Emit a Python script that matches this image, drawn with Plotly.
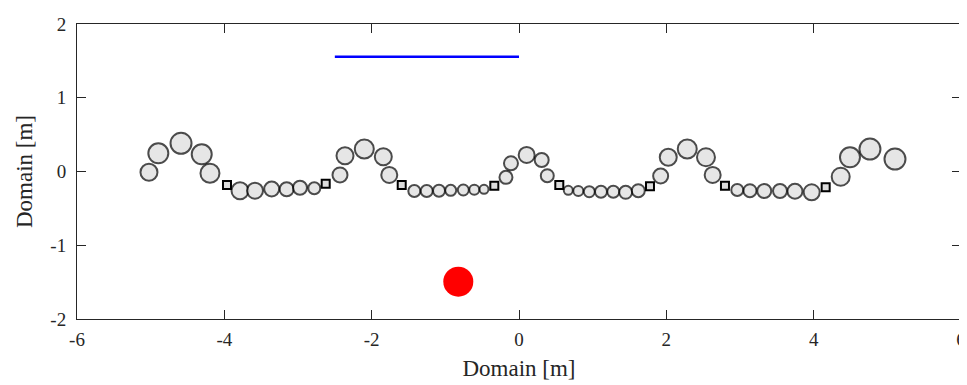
import plotly.graph_objects as go

# Circles (body links)
circle_x = [-5.023, -4.896, -4.588, -4.307, -4.195,
            -3.787, -3.584, -3.357, -3.154, -2.973, -2.779,
            -2.430, -2.362, -2.100, -1.842, -1.761,
            -1.421, -1.253, -1.086, -0.927, -0.756, -0.607, -0.475,
            -0.177, -0.109, 0.104, 0.308, 0.384,
            0.669, 0.805, 0.954, 1.113, 1.280, 1.448, 1.619,
            1.923, 2.026, 2.284, 2.538, 2.629,
            2.963, 3.135, 3.329, 3.543, 3.746, 3.973,
            4.367, 4.493, 4.764, 5.104]
circle_y = [-0.011, 0.247, 0.382, 0.233, -0.024,
            -0.260, -0.260, -0.237, -0.241, -0.220, -0.228,
            -0.047, 0.214, 0.305, 0.201, -0.047,
            -0.264, -0.264, -0.260, -0.255, -0.251, -0.247, -0.241,
            -0.079, 0.111, 0.224, 0.156, -0.057,
            -0.255, -0.264, -0.274, -0.274, -0.274, -0.282, -0.260,
            -0.061, 0.193, 0.305, 0.193, -0.047,
            -0.251, -0.260, -0.264, -0.264, -0.268, -0.282,
            -0.071, 0.193, 0.305, 0.169]
circle_d = [17, 20, 21, 20, 19,
            17, 16, 15, 14, 14, 12,
            15, 17, 19, 17, 16,
            12, 12, 12, 11, 11, 10, 9,
            13, 14, 16, 14, 13,
            9, 10, 11, 12, 12, 13, 13,
            15, 17, 19, 18, 16,
            12, 13, 14, 14, 15, 16,
            18, 20, 21, 21]

# Rectangles (joints)
square_x = [-3.964, -2.624, -1.592, -0.335, 0.547, 1.778, 2.796, 4.163]
square_y = [-0.183, -0.165, -0.183, -0.193, -0.183, -0.201, -0.193, -0.214]

# Blue segment
seg_x = [-2.5, 0.0]
seg_y = [1.555, 1.555]

# Red target
target_x = [-0.824]
target_y = [-1.494]

FONT = "Liberation Serif, DejaVu Serif, serif"

fig = go.Figure()
fig.add_trace(go.Scatter(
    x=seg_x, y=seg_y, mode="lines",
    line=dict(color="#0000ff", width=2.5), showlegend=False, hoverinfo="skip"))
fig.add_trace(go.Scatter(
    x=circle_x, y=circle_y, mode="markers",
    marker=dict(size=circle_d, color="#dcdcdc",
                line=dict(color="black", width=2)),
    showlegend=False))
fig.add_trace(go.Scatter(
    x=square_x, y=square_y, mode="markers",
    marker=dict(symbol="square", size=8, color="#dcdcdc",
                line=dict(color="black", width=2)),
    showlegend=False))
fig.add_trace(go.Scatter(
    x=target_x, y=target_y, mode="markers",
    marker=dict(size=30, color="#ff0000", line=dict(width=0)),
    showlegend=False))

axis_common = dict(
    showline=True, linecolor="#262626", linewidth=1, mirror="ticks",
    ticks="inside", ticklen=9, tickcolor="#262626", tickwidth=1,
    showgrid=False, zeroline=False, automargin=False,
    tickfont=dict(family=FONT, size=19, color="#262626"),
)

# The page body has an 8px margin, so the figure is sized/offset to compensate
fig.update_layout(
    width=959, height=377,
    margin=dict(l=69, r=6, t=16, b=66),
    plot_bgcolor="white", paper_bgcolor="white",
    xaxis=dict(range=[-6, 6], tickvals=[-6, -4, -2, 0, 2, 4, 6],
               ticktext=["-6", "-4", "-2", "0", "2", "4", "6"],
               title=dict(text="Domain [m]", standoff=11,
                          font=dict(family=FONT, size=23, color="#262626")),
               ticklabelstandoff=3,
               **axis_common),
    yaxis=dict(range=[-2, 2], tickvals=[-2, -1, 0, 1, 2],
               ticktext=["-2", "-1", "0", "1", "2"],
               title=dict(text="Domain [m]", standoff=11,
                          font=dict(family=FONT, size=23, color="#262626")),
               ticklabelstandoff=6,
               **axis_common),
)

fig.write_html("out.html")
